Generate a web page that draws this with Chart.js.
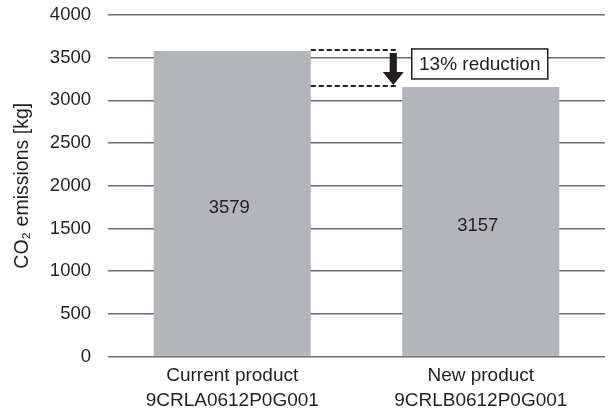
<!DOCTYPE html>
<html>
<head>
<meta charset="utf-8">
<script src="https://cdn.jsdelivr.net/npm/chart.js@4.4.1/dist/chart.umd.min.js"></script>
<style>
html,body{margin:0;padding:0;background:#fff;}
#wrap{width:608px;height:410px;position:relative;}
</style>
</head>
<body>
<div id="wrap"><canvas id="c"></canvas></div>
<script>
// ---- data ----
const categories = [["Current product", "9CRLA0612P0G001"], ["New product", "9CRLB0612P0G001"]];
const emissions = [3579, 3157];
const yTickValues = [0, 500, 1000, 1500, 2000, 2500, 3000, 3500, 4000];
const yTitle = "CO\u2082 emissions [kg]";
const reductionLabel = "13% reduction";

// ---- style ----
const TEXT = '#231f20';
const FONT = '"Liberation Sans", Arial, Helvetica, sans-serif';

const annotPlugin = {
  id: 'annot',
  afterDatasetsDraw(chart) {
    const ctx = chart.ctx;
    const meta = chart.getDatasetMeta(0);
    const ys = chart.scales.y;
    const b1 = meta.data[0], b2 = meta.data[1];
    ctx.save();
    // value labels
    ctx.fillStyle = TEXT;
    ctx.font = '18.5px ' + FONT;
    ctx.textAlign = 'center';
    ctx.textBaseline = 'middle';
    meta.data.forEach((bar, i) => {
      ctx.fillText(String(emissions[i]), bar.x - 3, (bar.y + bar.base) / 2 + 4.5);
    });
    // dashed lines
    const r1 = b1.x + b1.width / 2;
    const yA = ys.getPixelForValue(emissions[0]) - 1;
    const yB = ys.getPixelForValue(emissions[1]) - 1;
    const dashEnd = r1 + 87;
    ctx.setLineDash([5, 3]);
    ctx.lineWidth = 2;
    ctx.strokeStyle = TEXT;
    ctx.beginPath();
    ctx.moveTo(r1, yA); ctx.lineTo(dashEnd, yA);
    ctx.moveTo(r1, yB); ctx.lineTo(dashEnd - 2, yB);
    ctx.stroke();
    ctx.setLineDash([]);
    // arrow
    const ax = r1 + 82.5;
    ctx.fillStyle = TEXT;
    ctx.fillRect(ax - 3.6, yA + 3, 7.2, (yB - 14) - (yA + 3) + 1);
    ctx.beginPath();
    ctx.moveTo(ax - 10.5, yB - 14);
    ctx.lineTo(ax + 10.5, yB - 14);
    ctx.lineTo(ax, yB - 1);
    ctx.closePath();
    ctx.fill();
    // box
    const bw = 136, bh = 30;
    const bx = b2.x - 1 - bw / 2, by = yA - 1;
    ctx.fillStyle = '#fff';
    ctx.fillRect(bx, by, bw, bh);
    ctx.lineWidth = 1.5;
    ctx.strokeStyle = TEXT;
    ctx.strokeRect(bx, by, bw, bh);
    ctx.fillStyle = TEXT;
    ctx.font = '19px ' + FONT;
    ctx.textAlign = 'center';
    ctx.textBaseline = 'middle';
    ctx.fillText(reductionLabel, bx + bw / 2, by + bh / 2 + 1);
    ctx.restore();
  }
};

new Chart(document.getElementById('c'), {
  type: 'bar',
  data: {
    labels: categories,
    datasets: [{
      data: emissions,
      backgroundColor: '#b4b5b8',
      borderWidth: 0,
      barPercentage: 0.632,
      categoryPercentage: 1
    }]
  },
  options: {
    responsive: true,
    maintainAspectRatio: false,
    animation: false,
    devicePixelRatio: 1,
    layout: { padding: { left: 0, right: 3, top: 15, bottom: 0 } },
    plugins: { legend: { display: false }, tooltip: { enabled: false } },
    scales: {
      x: {
        grid: { display: false, drawTicks: false },
        border: { display: false },
        ticks: {
          color: TEXT,
          font: { family: FONT, size: 19, lineHeight: 1.3 },
          padding: 7,
          maxRotation: 0, autoSkip: false
        },
        afterFit(scale) { scale.height = 53.5; }
      },
      y: {
        min: 0, max: 4000,
        afterBuildTicks(scale) { scale.ticks = yTickValues.map(v => ({ value: v })); },
        grid: { color: '#6d6e71', lineWidth: 1.4, drawTicks: false },
        border: { display: false },
        ticks: {
          color: TEXT,
          font: { family: FONT, size: 18.5 },
          padding: 17,
          callback: (v) => String(v)
        },
        title: {
          display: true,
          text: yTitle,
          color: TEXT,
          font: { family: FONT, size: 19.5, lineHeight: 1.2 },
          padding: { top: 11, bottom: 0 }
        },
        afterFit(scale) {
          scale.width = 108;
          scale.paddingTop = 0;
          scale.paddingBottom = 0;
        }
      }
    }
  },
  plugins: [annotPlugin]
});
</script>
</body>
</html>
